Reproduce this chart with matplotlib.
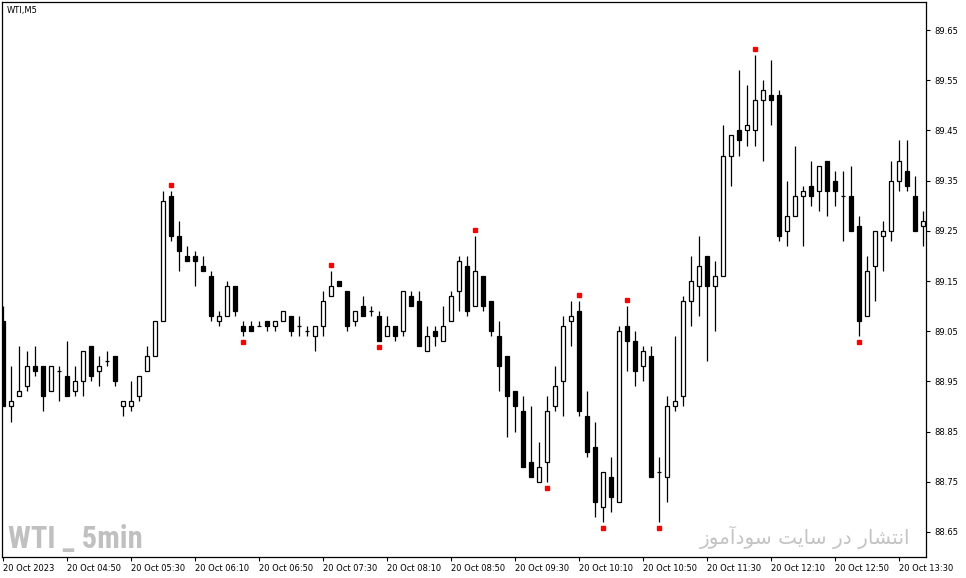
import matplotlib
matplotlib.use("Agg")
import matplotlib.pyplot as plt
from matplotlib.transforms import offset_copy
from matplotlib import font_manager
import numpy as np

# ---- data (WTI, M5) ----
opens = [89.07, 88.90, 88.92, 88.94, 88.98, 88.98, 88.93, 88.97, 88.96, 88.93,
         88.95, 89.02, 88.97, 88.99, 89.00, 88.90, 88.90, 88.92, 88.97, 89.00,
         89.07, 89.32, 89.24, 89.20, 89.20, 89.18, 89.16, 89.07, 89.08, 89.14,
         89.06, 89.06, 89.06, 89.07, 89.06, 89.07, 89.08, 89.06, 89.05, 89.04,
         89.06, 89.12, 89.15, 89.13, 89.07, 89.10, 89.09, 89.08, 89.04, 89.06,
         89.05, 89.12, 89.11, 89.01, 89.05, 89.03, 89.07, 89.13, 89.18, 89.10,
         89.16, 89.11, 89.04, 89.00, 88.93, 88.89, 88.79, 88.75, 88.79, 88.90,
         88.95, 89.07, 89.09, 88.88, 88.82, 88.70, 88.76, 88.71, 89.06, 89.03,
         88.98, 89.00, 88.77, 88.76, 88.90, 88.92, 89.11, 89.14, 89.20, 89.14,
         89.16, 89.40, 89.45, 89.45, 89.45, 89.51, 89.52, 89.52, 89.25, 89.28,
         89.32, 89.34, 89.33, 89.39, 89.35, 89.32, 89.32, 89.26, 89.08, 89.18,
         89.24, 89.25, 89.35, 89.37, 89.32, 89.26]
highs = [89.10, 88.98, 89.02, 89.01, 89.02, 88.98, 88.98, 88.98, 89.03, 88.98,
         89.01, 89.02, 89.00, 89.01, 89.00, 88.91, 88.95, 88.96, 89.02, 89.07,
         89.33, 89.33, 89.27, 89.22, 89.21, 89.20, 89.17, 89.09, 89.15, 89.14,
         89.07, 89.07, 89.07, 89.07, 89.07, 89.09, 89.08, 89.08, 89.06, 89.06,
         89.13, 89.17, 89.15, 89.13, 89.09, 89.12, 89.10, 89.09, 89.08, 89.06,
         89.13, 89.13, 89.13, 89.06, 89.06, 89.10, 89.13, 89.20, 89.20, 89.24,
         89.16, 89.11, 89.07, 89.00, 88.93, 88.92, 88.90, 88.83, 88.92, 88.98,
         89.08, 89.11, 89.11, 88.93, 88.87, 88.77, 88.80, 89.06, 89.10, 89.05,
         89.02, 89.02, 88.80, 88.92, 89.04, 89.12, 89.20, 89.24, 89.20, 89.19,
         89.46, 89.44, 89.57, 89.54, 89.60, 89.55, 89.59, 89.53, 89.35, 89.42,
         89.34, 89.39, 89.38, 89.39, 89.37, 89.37, 89.38, 89.28, 89.20, 89.25,
         89.27, 89.39, 89.43, 89.43, 89.36, 89.29]
lows = [88.90, 88.87, 88.92, 88.93, 88.96, 88.89, 88.93, 88.91, 88.92, 88.92,
        88.92, 88.95, 88.94, 88.98, 88.94, 88.88, 88.89, 88.91, 88.97, 89.00,
        89.07, 89.23, 89.17, 89.19, 89.14, 89.17, 89.07, 89.06, 89.08, 89.08,
        89.04, 89.05, 89.06, 89.05, 89.05, 89.07, 89.04, 89.04, 89.04, 89.01,
        89.04, 89.12, 89.14, 89.05, 89.06, 89.08, 89.08, 89.03, 89.04, 89.03,
        89.04, 89.10, 89.02, 89.01, 89.02, 89.03, 89.07, 89.09, 89.08, 89.10,
        89.09, 89.04, 88.93, 88.84, 88.85, 88.78, 88.76, 88.75, 88.75, 88.89,
        88.88, 89.02, 88.88, 88.80, 88.68, 88.67, 88.69, 88.71, 88.97, 88.94,
        88.95, 88.76, 88.67, 88.71, 88.89, 88.90, 89.06, 89.08, 88.99, 89.05,
        89.16, 89.34, 89.40, 89.42, 89.42, 89.39, 89.46, 89.23, 89.22, 89.28,
        89.22, 89.30, 89.29, 89.28, 89.30, 89.23, 89.25, 89.04, 89.08, 89.11,
        89.17, 89.23, 89.33, 89.33, 89.25, 89.22]
closes = [88.90, 88.91, 88.93, 88.98, 88.97, 88.92, 88.98, 88.97, 88.92, 88.95,
          89.01, 88.96, 88.98, 88.99, 88.95, 88.91, 88.91, 88.96, 89.00, 89.07,
          89.31, 89.24, 89.21, 89.19, 89.19, 89.17, 89.08, 89.08, 89.14, 89.09,
          89.05, 89.05, 89.06, 89.06, 89.07, 89.09, 89.05, 89.06, 89.05, 89.06,
          89.11, 89.14, 89.14, 89.06, 89.09, 89.08, 89.09, 89.03, 89.06, 89.04,
          89.13, 89.10, 89.02, 89.04, 89.04, 89.06, 89.12, 89.19, 89.09, 89.17,
          89.10, 89.05, 88.98, 88.92, 88.90, 88.78, 88.76, 88.78, 88.89, 88.94,
          89.06, 89.08, 88.89, 88.81, 88.71, 88.77, 88.72, 89.05, 89.03, 88.97,
          89.01, 88.76, 88.77, 88.90, 88.91, 89.11, 89.15, 89.18, 89.14, 89.16,
          89.40, 89.44, 89.43, 89.46, 89.51, 89.53, 89.51, 89.24, 89.28, 89.32,
          89.33, 89.32, 89.38, 89.33, 89.33, 89.32, 89.25, 89.07, 89.17, 89.25,
          89.25, 89.35, 89.39, 89.34, 89.25, 89.27]
fractal_up = [21, 41, 59, 72, 78, 94]
fractal_down = [30, 47, 68, 75, 82, 107]
xtick_labels = ["20 Oct 2023", "20 Oct 04:50", "20 Oct 05:30", "20 Oct 06:10",
                "20 Oct 06:50", "20 Oct 07:30", "20 Oct 08:10", "20 Oct 08:50",
                "20 Oct 09:30", "20 Oct 10:10", "20 Oct 10:50", "20 Oct 11:30",
                "20 Oct 12:10", "20 Oct 12:50", "20 Oct 13:30"]
ytick_values = [88.65, 88.75, 88.85, 88.95, 89.05, 89.15, 89.25, 89.35, 89.45, 89.55, 89.65]

# ---- figure ----
W, H = 966, 578
fig = plt.figure(figsize=(W / 100, H / 100), dpi=100)
fig.patch.set_facecolor("white")
L, T, R, B = 2, 2, 926, 557
ax = fig.add_axes([L / W, (H - B) / H, (R - L) / W, (B - T) / H])
ax.set_facecolor("white")

n = len(opens)
x = np.arange(n)
o = np.array(opens); h = np.array(highs); l = np.array(lows); c = np.array(closes)

ax.vlines(x, l, h, color="black", linewidth=0.9, zorder=2)
bw = 0.5
for i in range(n):
    if abs(c[i] - o[i]) < 1e-9:
        ax.hlines(o[i], i - bw / 2 - 0.06, i + bw / 2 + 0.06, color="black", linewidth=0.9, zorder=3)
    else:
        bot = min(o[i], c[i]); ht = abs(c[i] - o[i])
        fc = "white" if c[i] > o[i] else "black"
        ax.bar(i, ht, bottom=bot, width=bw, facecolor=fc, edgecolor="black",
               linewidth=0.9, zorder=3)

up_t = offset_copy(ax.transData, fig=fig, x=0, y=6, units="dots")
dn_t = offset_copy(ax.transData, fig=fig, x=0, y=-6, units="dots")
ax.plot(fractal_up, h[fractal_up], ls="none", marker="s", ms=2.3, color="red",
        mec="red", transform=up_t, zorder=4)
ax.plot(fractal_down, l[fractal_down], ls="none", marker="s", ms=2.3, color="red",
        mec="red", transform=dn_t, zorder=4)

ax.set_xlim(-0.125, 115.375)
ax.set_ylim(88.600, 89.706)

for s in ax.spines.values():
    s.set_color("black")
    s.set_linewidth(0.9)

ax.yaxis.tick_right()
ax.set_yticks(ytick_values)
ax.set_yticklabels([f"{v:.2f}" for v in ytick_values])
ax.tick_params(axis="y", direction="out", length=3, width=0.8, pad=3, labelsize=6)
ax.set_xticks(np.arange(0, 113, 8))
ax.set_xticklabels(xtick_labels, ha="left")
ax.tick_params(axis="x", direction="out", length=3, width=0.8, pad=2, labelsize=6)

ax.text(5 / (R - L), 1 - 9 / (B - T), "WTI,M5", transform=ax.transAxes,
        fontsize=6, va="center", ha="left", color="black")

# watermark: prefer a narrow bold face if available
available = {f.name for f in font_manager.fontManager.ttflist}
narrow = None
for cand in ["Liberation Sans Narrow", "DejaVu Sans Condensed", "Roboto Condensed"]:
    if cand in available:
        narrow = cand
        break
if narrow is not None:
    wm_family, wm_size = [narrow, "DejaVu Sans"], 22
else:
    wm_family, wm_size = ["DejaVu Sans"], 16.5
fig.text(8 / W, 1 - 548 / H, "WTI _ 5min", fontsize=wm_size, fontweight="bold",
         family=wm_family, color="#c0c0c0", ha="left", va="baseline")

persian = "\uFEAF\uFEEE\uFEE3\uFE81\uFEA9\uFEEE\uFEB3 \uFE96\uFEF3\uFE8E\uFEB3 \uFEAD\uFEA9 \uFEAD\uFE8E\uFEB8\uFE98\uFEE7\uFE8D"
fig.text(910 / W, 1 - 544 / H, persian, fontsize=14.5, family=["DejaVu Sans"],
         color="#c4c4c4", ha="right", va="baseline")

fig.savefig("out.png", dpi=100, facecolor="white")
